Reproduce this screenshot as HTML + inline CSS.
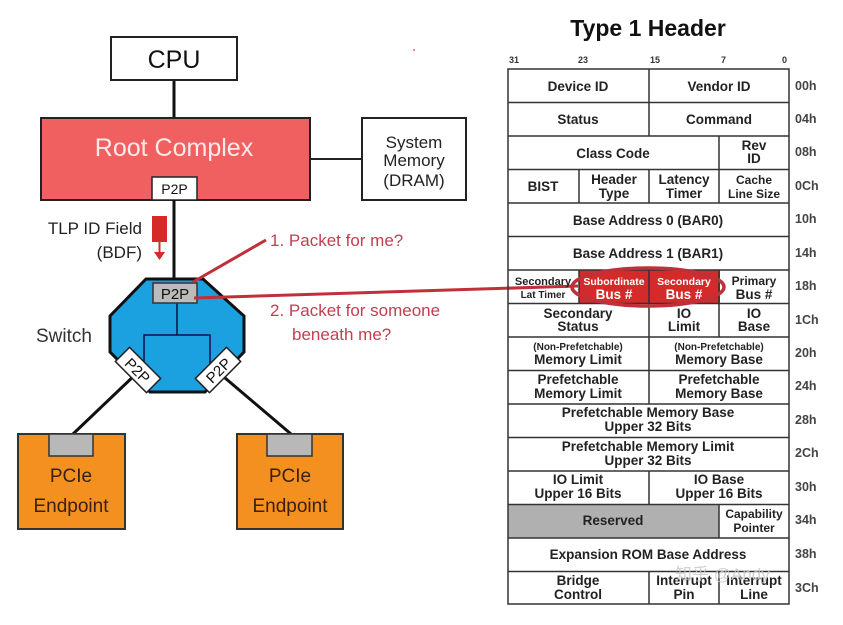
<!DOCTYPE html>
<html><head><meta charset="utf-8"><style>
html,body{margin:0;padding:0;background:#fff;}
svg{display:block;}
text{font-family:"Liberation Sans",Arial,sans-serif;}
.t{font-weight:bold;font-size:13.5px;fill:#222;text-anchor:middle;}
.o{font-weight:bold;font-size:12.5px;fill:#444;}
</style></head><body>
<svg width="843" height="625" viewBox="0 0 843 625" xmlns="http://www.w3.org/2000/svg">
<!-- left diagram -->
<line x1="174" y1="80" x2="174" y2="118" stroke="#111" stroke-width="3"/>
<rect x="111" y="37" width="126" height="43" fill="#fff" stroke="#222" stroke-width="2"/>
<text x="174" y="68" font-size="25" text-anchor="middle" fill="#111">CPU</text>
<line x1="310" y1="159" x2="362" y2="159" stroke="#222" stroke-width="2"/>
<rect x="41" y="118" width="269" height="82" fill="#f06060" stroke="#222" stroke-width="2"/>
<text x="174" y="156" font-size="25" text-anchor="middle" fill="#fbeaea">Root Complex</text>
<rect x="152" y="177" width="45" height="23" fill="#fff" stroke="#222" stroke-width="1.5"/>
<text x="174.5" y="194" font-size="14" text-anchor="middle" fill="#111">P2P</text>
<rect x="362" y="118" width="104" height="82" fill="#fff" stroke="#222" stroke-width="2"/>
<text x="414" y="148" font-size="17" text-anchor="middle" fill="#222">System</text>
<text x="414" y="166" font-size="17" text-anchor="middle" fill="#222">Memory</text>
<text x="414" y="186" font-size="17" text-anchor="middle" fill="#222">(DRAM)</text>
<line x1="174" y1="200" x2="174" y2="280" stroke="#111" stroke-width="3"/>
<text x="142" y="234" font-size="17" text-anchor="end" fill="#222">TLP ID Field</text>
<text x="142" y="258" font-size="17" text-anchor="end" fill="#222">(BDF)</text>
<rect x="152" y="216" width="15" height="26" fill="#d42a2a"/>
<line x1="159.5" y1="242" x2="159.5" y2="256" stroke="#d42a2a" stroke-width="2"/>
<polygon points="154,252 165,252 159.5,260" fill="#d42a2a"/>
<!-- connectors to endpoints -->
<line x1="138" y1="372" x2="73" y2="434" stroke="#111" stroke-width="3"/>
<line x1="218" y1="372" x2="291" y2="434" stroke="#111" stroke-width="3"/>
<!-- switch -->
<polygon points="146,279 203,279 244,316 244,352 205,392 150,392 110,352 110,316" fill="#1ba0e0" stroke="#111" stroke-width="3"/>
<line x1="177" y1="303" x2="177" y2="335" stroke="#114" stroke-width="1.5"/>
<polyline points="144,365 144,335 210,335 210,365" fill="none" stroke="#114" stroke-width="1.5"/>
<rect x="153" y="283" width="44" height="20" fill="#bbb" stroke="#333" stroke-width="1.5"/>
<text x="175" y="299" font-size="15" text-anchor="middle" fill="#111">P2P</text>
<g transform="translate(138,370) rotate(45)">
<rect x="-22" y="-10" width="44" height="20" fill="#fff" stroke="#222" stroke-width="1.5"/>
<text x="0" y="6" font-size="15" text-anchor="middle" fill="#111">P2P</text></g>
<g transform="translate(218,370) rotate(-45)">
<rect x="-22" y="-10" width="44" height="20" fill="#fff" stroke="#222" stroke-width="1.5"/>
<text x="0" y="6" font-size="15" text-anchor="middle" fill="#111">P2P</text></g>
<text x="36" y="342" font-size="19" fill="#333">Switch</text>
<!-- endpoints -->
<rect x="18" y="434" width="107" height="95" fill="#f39020" stroke="#333" stroke-width="2"/>
<rect x="49" y="434" width="44" height="22" fill="#b8b8b8" stroke="#333" stroke-width="1.5"/>
<text x="71" y="482" font-size="19" text-anchor="middle" fill="#3a2010">PCIe</text>
<text x="71" y="512" font-size="19" text-anchor="middle" fill="#3a2010">Endpoint</text>
<rect x="237" y="434" width="106" height="95" fill="#f39020" stroke="#333" stroke-width="2"/>
<rect x="267" y="434" width="45" height="22" fill="#b8b8b8" stroke="#333" stroke-width="1.5"/>
<text x="290" y="482" font-size="19" text-anchor="middle" fill="#3a2010">PCIe</text>
<text x="290" y="512" font-size="19" text-anchor="middle" fill="#3a2010">Endpoint</text>
<!-- red annotations -->
<line x1="193" y1="282" x2="266" y2="240" stroke="#c0303a" stroke-width="3"/>
<line x1="194" y1="298" x2="578" y2="286" stroke="#c0303a" stroke-width="3"/>
<text x="270" y="246" font-size="17" fill="#c04050">1. Packet for me?</text>
<text x="270" y="316" font-size="17" fill="#c04050">2. Packet for someone</text>
<text x="292" y="340" font-size="17" fill="#c04050">beneath me?</text>
<circle cx="414" cy="50" r="0.8" fill="#e00"/>
<!-- table -->
<text x="648" y="36" font-size="23" font-weight="bold" text-anchor="middle" fill="#111">Type 1 Header</text>
<g font-size="9" fill="#333" font-weight="bold">
<text x="509" y="63">31</text><text x="578" y="63">23</text><text x="650" y="63">15</text><text x="721" y="63">7</text><text x="782" y="63">0</text></g>
<rect x="508" y="505" width="211" height="33.5" fill="#b0b0b0"/>
<rect x="579" y="270" width="141" height="33.5" fill="#d42a2a"/>
<g stroke="#333" stroke-width="1.5" fill="none">
<rect x="508" y="69" width="281" height="535"/>
<line x1="508" y1="102.5" x2="789" y2="102.5"/><line x1="508" y1="136" x2="789" y2="136"/>
<line x1="508" y1="169.5" x2="789" y2="169.5"/><line x1="508" y1="203" x2="789" y2="203"/>
<line x1="508" y1="236.5" x2="789" y2="236.5"/><line x1="508" y1="270" x2="789" y2="270"/>
<line x1="508" y1="303.5" x2="789" y2="303.5"/><line x1="508" y1="337" x2="789" y2="337"/>
<line x1="508" y1="370.5" x2="789" y2="370.5"/><line x1="508" y1="404" x2="789" y2="404"/>
<line x1="508" y1="437.5" x2="789" y2="437.5"/><line x1="508" y1="471" x2="789" y2="471"/>
<line x1="508" y1="504.5" x2="789" y2="504.5"/><line x1="508" y1="538" x2="789" y2="538"/>
<line x1="508" y1="571.5" x2="789" y2="571.5"/>
<line x1="649" y1="69" x2="649" y2="136"/>
<line x1="719" y1="136" x2="719" y2="203"/>
<line x1="579" y1="169.5" x2="579" y2="203"/><line x1="649" y1="169.5" x2="649" y2="203"/>
<line x1="579" y1="270" x2="579" y2="303.5"/><line x1="649" y1="270" x2="649" y2="404"/><line x1="719" y1="270" x2="719" y2="337"/>
<line x1="649" y1="471" x2="649" y2="504.5"/>
<line x1="719" y1="504.5" x2="719" y2="538"/>
<line x1="649" y1="571.5" x2="649" y2="604"/><line x1="719" y1="571.5" x2="719" y2="604"/>
</g>
<text class="t" x="578" y="91">Device ID</text><text class="t" x="719" y="91">Vendor ID</text>
<text class="t" x="578" y="124">Status</text><text class="t" x="719" y="124">Command</text>
<text class="t" x="613" y="158">Class Code</text>
<text class="t" x="754" y="150">Rev</text><text class="t" x="754" y="163">ID</text>
<text class="t" x="543" y="191">BIST</text>
<text class="t" x="614" y="184">Header</text><text class="t" x="614" y="198">Type</text>
<text class="t" x="684" y="184">Latency</text><text class="t" x="684" y="198">Timer</text>
<text class="t" x="754" y="184" style="font-size:12px">Cache</text><text class="t" x="754" y="198" style="font-size:12px">Line Size</text>
<text class="t" x="648" y="225">Base Address 0 (BAR0)</text>
<text class="t" x="648" y="258">Base Address 1 (BAR1)</text>
<text class="t" x="543" y="285" style="font-size:11px">Secondary</text><text class="t" x="543" y="298" style="font-size:10px">Lat Timer</text>
<text class="t" x="614" y="285" style="font-size:10.5px;fill:#fff">Subordinate</text><text class="t" x="614" y="299" style="fill:#fff">Bus #</text>
<text class="t" x="684" y="285" style="font-size:10.5px;fill:#fff">Secondary</text><text class="t" x="684" y="299" style="fill:#fff">Bus #</text>
<text class="t" x="754" y="285" style="font-size:12px">Primary</text><text class="t" x="754" y="299">Bus #</text>
<text class="t" x="578" y="318">Secondary</text><text class="t" x="578" y="331">Status</text>
<text class="t" x="684" y="318">IO</text><text class="t" x="684" y="331">Limit</text>
<text class="t" x="754" y="318">IO</text><text class="t" x="754" y="331">Base</text>
<text class="t" x="578" y="350" style="font-size:10px">(Non-Prefetchable)</text><text class="t" x="578" y="364">Memory Limit</text>
<text class="t" x="719" y="350" style="font-size:10px">(Non-Prefetchable)</text><text class="t" x="719" y="364">Memory Base</text>
<text class="t" x="578" y="384">Prefetchable</text><text class="t" x="578" y="398">Memory Limit</text>
<text class="t" x="719" y="384">Prefetchable</text><text class="t" x="719" y="398">Memory Base</text>
<text class="t" x="648" y="417">Prefetchable Memory Base</text><text class="t" x="648" y="431">Upper 32 Bits</text>
<text class="t" x="648" y="451">Prefetchable Memory Limit</text><text class="t" x="648" y="465">Upper 32 Bits</text>
<text class="t" x="578" y="484">IO Limit</text><text class="t" x="578" y="498">Upper 16 Bits</text>
<text class="t" x="719" y="484">IO Base</text><text class="t" x="719" y="498">Upper 16 Bits</text>
<text class="t" x="613" y="525">Reserved</text>
<text class="t" x="754" y="518" style="font-size:12px">Capability</text><text class="t" x="754" y="532" style="font-size:12px">Pointer</text>
<text class="t" x="648" y="559">Expansion ROM Base Address</text>
<text class="t" x="578" y="585">Bridge</text><text class="t" x="578" y="599">Control</text>
<text class="t" x="684" y="585">Interrupt</text><text class="t" x="684" y="599">Pin</text>
<text class="t" x="754" y="585">Interrupt</text><text class="t" x="754" y="599">Line</text>
<g class="o"><text class="o" x="795" y="90">00h</text><text class="o" x="795" y="123">04h</text>
<text class="o" x="795" y="156">08h</text><text class="o" x="795" y="190">0Ch</text>
<text class="o" x="795" y="223">10h</text><text class="o" x="795" y="257">14h</text>
<text class="o" x="795" y="290">18h</text><text class="o" x="795" y="324">1Ch</text>
<text class="o" x="795" y="357">20h</text><text class="o" x="795" y="390">24h</text>
<text class="o" x="795" y="424">28h</text><text class="o" x="795" y="457">2Ch</text>
<text class="o" x="795" y="491">30h</text><text class="o" x="795" y="524">34h</text>
<text class="o" x="795" y="558">38h</text><text class="o" x="795" y="592">3Ch</text></g>
<ellipse cx="648" cy="287" rx="76" ry="19" fill="none" stroke="#c0303a" stroke-width="3.5"/>
<text x="675" y="580" font-size="17" fill="#c8c8c8" opacity="0.8" font-family="Liberation Sans, Noto Sans CJK SC, sans-serif">知乎 @Andy</text>
</svg>
</body></html>
